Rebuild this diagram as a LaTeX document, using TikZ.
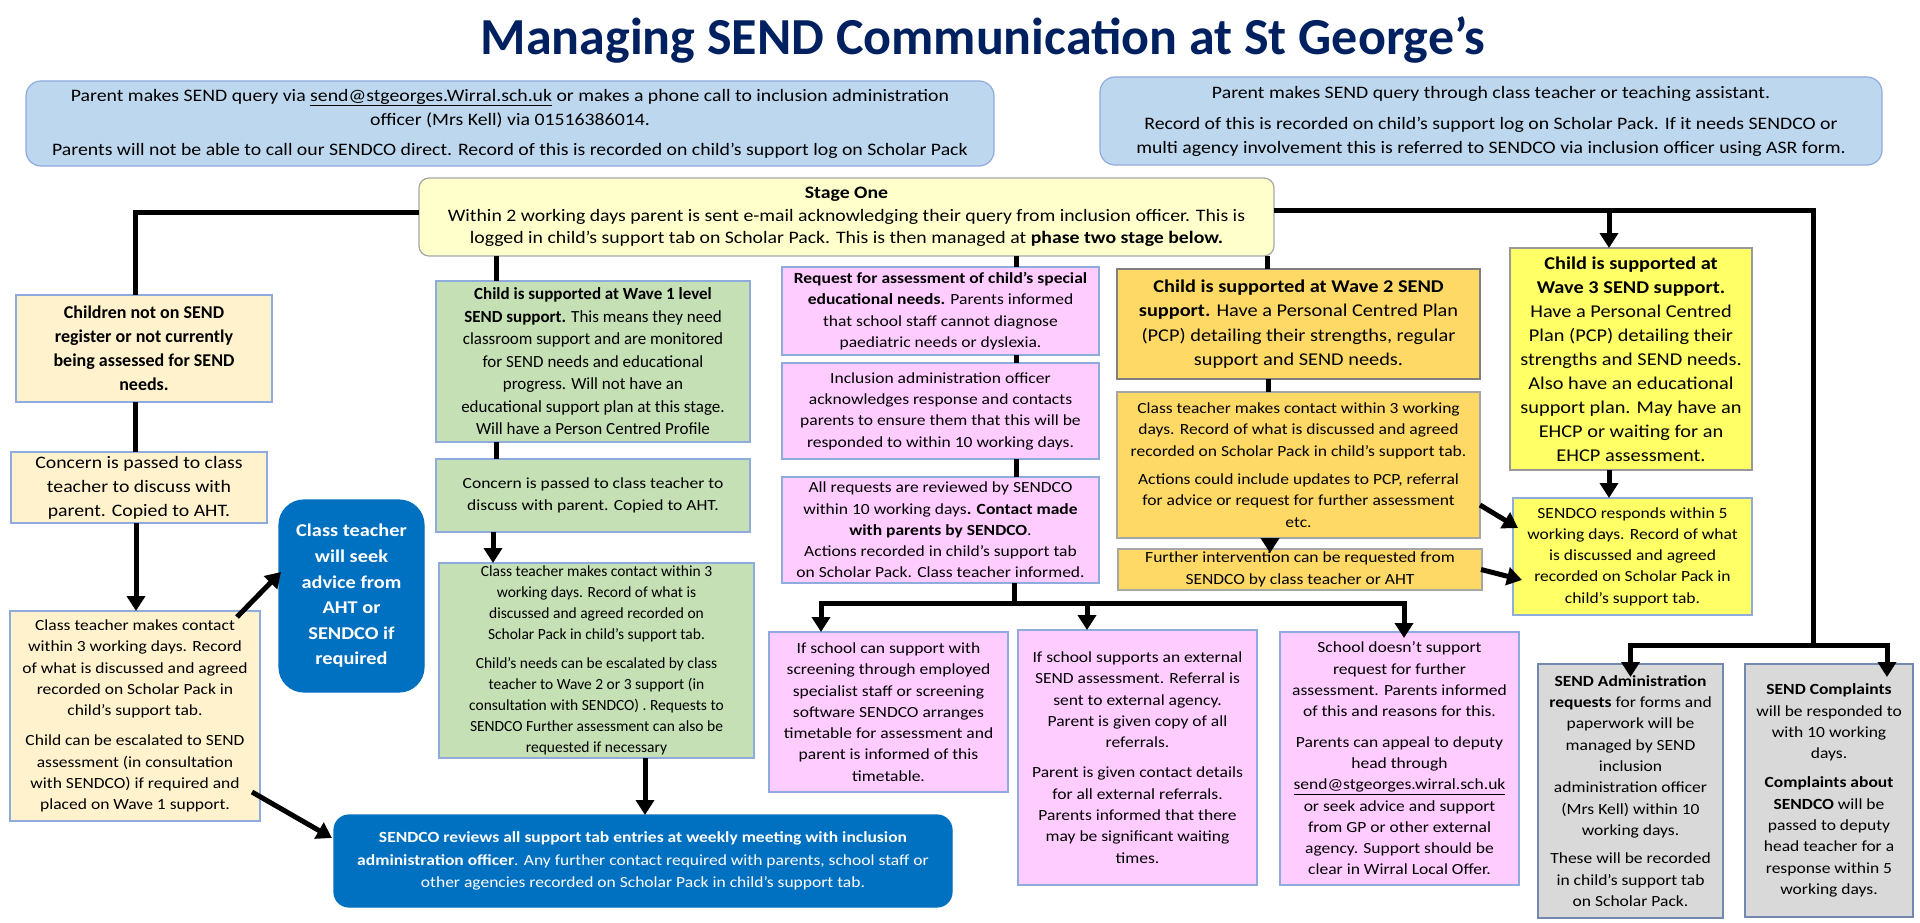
\documentclass[tikz,border=0pt]{standalone}
\usepackage{fontspec}
\setmainfont{Carlito}
\newfontfamily\widefont{Carlito}[FakeStretch=1.13,Ligatures=TeX]
\usetikzlibrary{arrows.meta}

\definecolor{titleblue}{HTML}{002060}
\definecolor{paleblue}{HTML}{BDD7EE}
\definecolor{edgeblue}{HTML}{8FAADC}
\definecolor{paleyellow}{HTML}{FFFFCC}
\definecolor{cream}{HTML}{FFF2CC}
\definecolor{palegreen}{HTML}{C5E0B4}
\definecolor{softpink}{HTML}{FFCCFF}
\definecolor{amber}{HTML}{FFD966}
\definecolor{lemon}{HTML}{FFFF66}
\definecolor{lightgrey}{HTML}{D9D9D9}
\definecolor{deepblue}{HTML}{0070C0}

\begin{document}
\begin{tikzpicture}[x=1pt,y=-1pt,
  box/.style={draw=edgeblue,line width=1.2pt,align=center,inner sep=2pt,outer sep=0pt,
    font=\widefont\fontsize{15.5}{21.3}\selectfont},
  query/.style={box,fill=paleblue,rounded corners=15pt,font=\widefont\fontsize{17.5}{24}\selectfont},
  stageone/.style={box,draw=gray!70,fill=paleyellow,rounded corners=10pt,font=\widefont\fontsize{17.5}{22.5}\selectfont},
  nosend/.style={box,fill=cream},
  wave1/.style={box,fill=palegreen},
  assess/.style={box,fill=softpink},
  wave2/.style={box,draw=gray,fill=amber},
  wave3/.style={box,draw=gray!80,fill=lemon},
  admin/.style={box,draw=edgeblue!80!black,fill=lightgrey},
  sendco/.style={box,draw=deepblue,fill=deepblue,text=white,rounded corners=15pt},
  ln/.style={line width=5pt},
  arr/.style={line width=5pt,-{Triangle[width=18pt,length=15pt]}}]
\useasboundingbox (0,0) rectangle (1920,923);

\node[font=\fontsize{52}{60}\selectfont\bfseries,text=titleblue] (title) at (983,40)
  {Managing SEND Communication at St George's};

% queries
\node[query,minimum width=968pt,minimum height=85pt] (qa) at (510,123.5)
  {Parent makes SEND query via \underline{send@stgeorges.Wirral.sch.uk} or makes a phone call to inclusion administration\\
   officer (Mrs Kell) via 01516386014.\\[6pt]
   Parents will not be able to call our SENDCO direct.  Record of this is recorded on child's support log on Scholar Pack};
\node[query,minimum width=782pt,minimum height=88pt] (qb) at (1491,121)
  {Parent makes SEND query through class teacher or teaching assistant.\\[7pt]
   Record of this is recorded on child's support log on Scholar Pack.  If it needs SENDCO or\\
   multi agency involvement this is referred to SENDCO via inclusion officer using ASR form.};

\node[stageone,minimum width=855pt,minimum height=78pt] (stage) at (846.5,217)
  {\textbf{Stage One}\\
   Within 2 working days parent is sent e-mail acknowledging their query from inclusion officer.   This is\\
   logged in child's support tab on Scholar Pack.  This is then managed at \textbf{phase two stage below.}};

% not on register
\node[nosend,minimum width=256pt,minimum height=107pt,font=\fontsize{18}{24}\selectfont\bfseries] (c1) at (144,348.5)
  {Children not on SEND\\ register or not currently\\ being assessed for SEND\\ needs.};
\node[nosend,minimum width=256pt,minimum height=71pt,font=\widefont\fontsize{17.5}{24}\selectfont] (c2) at (139,487.5)
  {Concern is passed to class\\ teacher to discuss with\\ parent.  Copied to AHT.};
\node[nosend,minimum width=250pt,minimum height=210pt] (c3) at (135,716)
  {Class teacher makes contact\\ within 3 working days.  Record\\ of what is discussed and agreed\\
   recorded on Scholar Pack in\\ child's support tab.\\[9pt]
   Child can be escalated to SEND\\ assessment (in consultation\\ with SENDCO) if required and\\ placed on Wave 1 support.};
\node[sendco,rounded corners=25pt,minimum width=145pt,minimum height=192pt,font=\widefont\fontsize{18}{25.6}\selectfont\bfseries] (bt) at (351.5,596)
  {Class teacher\\ will seek\\ advice from\\ AHT or\\ SENDCO  if\\ required};

% wave 1
\node[wave1,minimum width=314pt,minimum height=161pt,font=\fontsize{17}{22.5}\selectfont] (g1) at (593,361.5)
  {\textbf{Child  is supported at Wave 1 level}\\ \textbf{SEND support.}  This means  they need\\
   classroom support and are monitored\\ for SEND needs and educational\\ progress.   Will not have an\\
   educational support plan at this stage.\\ Will have a Person Centred Profile};
\node[wave1,minimum width=314pt,minimum height=73pt] (g2) at (593,495.5)
  {Concern is passed to class teacher to\\ discuss with parent.  Copied to AHT.};
\node[wave1,minimum width=315pt,minimum height=195pt,font=\fontsize{15.5}{21}\selectfont] (g3) at (596.5,660.5)
  {Class teacher makes contact within 3\\ working days.  Record of what is\\ discussed and agreed recorded on\\
   Scholar Pack in child's support tab.\\[8pt]
   Child's needs can be escalated by class\\ teacher to Wave 2 or 3 support (in\\
   consultation with SENDCO) . Requests to\\ SENDCO  Further assessment can also be\\ requested  if necessary};

% assessment
\node[assess,minimum width=317pt,minimum height=88pt] (p1) at (940.5,311)
  {\textbf{Request for assessment of child's special}\\ \textbf{educational needs.}  Parents informed\\
   that school staff cannot diagnose\\ paediatric needs or dyslexia.};
\node[assess,minimum width=317pt,minimum height=96pt] (p2) at (940.5,411)
  {Inclusion administration officer\\ acknowledges response and contacts\\
   parents to ensure them that this will be\\ responded to within 10 working days.};
\node[assess,minimum width=317pt,minimum height=106pt] (p3) at (940.5,530)
  {All requests are reviewed by SENDCO\\ within 10 working days\textbf{.   Contact made}\\
   \textbf{with parents by SENDCO}.\\ Actions recorded in child's support tab\\ on Scholar Pack.  Class teacher informed.};
\node[assess,minimum width=239pt,minimum height=160pt] (p4) at (888.5,712)
  {If school can support with\\ screening through employed\\ specialist staff or screening\\
   software SENDCO arranges\\ timetable for assessment and\\ parent is informed of this\\ timetable.};
\node[assess,minimum width=239pt,minimum height=255pt] (p5) at (1137.5,757.5)
  {If school supports an external\\ SEND assessment.  Referral is\\ sent to external agency.\\
   Parent is given copy of all\\ referrals.\\[9pt]
   Parent is given contact details\\ for all external referrals.\\ Parents informed that there\\
   may be significant waiting\\ times.};
\node[assess,minimum width=239pt,minimum height=253pt] (p6) at (1399.5,758.5)
  {School doesn't support\\ request for further\\ assessment.  Parents informed\\ of this and reasons for this.\\[9pt]
   Parents can appeal to deputy\\ head through\\ \underline{send@stgeorges.wirral.sch.uk}\\
   or seek advice and support\\ from GP or other external\\ agency.  Support should be\\ clear in Wirral Local Offer.};

% wave 2
\node[wave2,minimum width=363pt,minimum height=110pt,font=\widefont\fontsize{18}{24.3}\selectfont] (o1) at (1298.5,324)
  {\textbf{Child  is supported at Wave 2 SEND}\\ \textbf{support.}  Have a Personal Centred Plan\\
   (PCP) detailing their strengths, regular\\ support and SEND needs.};
\node[wave2,draw=gray!70,minimum width=363pt,minimum height=146pt] (o2) at (1298.5,465)
  {Class teacher makes contact within 3 working\\ days.  Record of what is discussed and agreed\\
   recorded on Scholar Pack in child's support tab.\\[7pt]
   Actions could include updates to PCP, referral\\ for advice or request for further assessment\\ etc.};
\node[wave2,draw=gray!70,minimum width=364pt,minimum height=41pt] (o3) at (1300,569.5)
  {Further intervention can be requested from\\ SENDCO by class teacher or AHT};

% wave 3
\node[wave3,minimum width=242pt,minimum height=222pt,font=\widefont\fontsize{18}{24}\selectfont] (y1) at (1631,359)
  {\textbf{Child  is supported at}\\ \textbf{Wave 3 SEND support.}\\ Have a Personal Centred\\
   Plan (PCP) detailing their\\ strengths and SEND needs.\\ Also have an educational\\
   support plan.  May have an\\ EHCP or waiting for an\\ EHCP assessment.};
\node[wave3,draw=edgeblue,minimum width=239pt,minimum height=117pt] (y2) at (1632.5,556.5)
  {SENDCO responds within 5\\ working days. Record of what\\ is discussed and agreed\\
   recorded on Scholar Pack in\\ child's support tab.};

% admin and complaints
\node[admin,minimum width=185pt,minimum height=254pt] (gr1) at (1630.5,791)
  {\textbf{SEND Administration}\\ \textbf{requests} for forms and\\ paperwork will be\\ managed by SEND\\ inclusion\\
   administration officer\\ (Mrs Kell) within 10\\ working  days.\\[7pt]
   These will be recorded\\ in child's support tab\\ on Scholar Pack.};
\node[admin,minimum width=168pt,minimum height=253pt] (gr2) at (1829,790.5)
  {\textbf{SEND Complaints}\\ will be responded to\\ with 10 working\\ days.\\[8pt]
   \textbf{Complaints  about}\\ \textbf{SENDCO}  will be\\ passed to deputy\\ head teacher for a\\
   response within 5\\ working days.};

\node[sendco,minimum width=618pt,minimum height=92pt,font=\widefont\fontsize{15.5}{22.5}\selectfont] (sb) at (643,861)
  {\textbf{SENDCO reviews all support tab entries at weekly meeting with inclusion}\\
   \textbf{administration officer}.  Any further contact required with parents, school staff or\\
   other agencies recorded on Scholar Pack in child's support tab.};

% connectors
\coordinate (fork) at ([xshift=74pt,yshift=-20pt]p3.south);
\coordinate (rtop) at (1813,210);
\coordinate (rbot) at (1813,645);
\coordinate (w3) at ([xshift=-22pt]y1.north);

\draw[ln] ([yshift=5pt]stage.west) -| ([xshift=-9pt]c1.north);
\draw[ln] ([xshift=-9pt]c1.south) -- ([xshift=-4pt]c2.north);
\draw[arr] ([xshift=-3pt]c2.south) -- ([xshift=1pt]c3.north);
\draw[arr] ([xshift=-23pt,yshift=-6pt]c3.north east) -- ([xshift=2pt,yshift=24pt]bt.west);
\draw[arr] ([xshift=-8pt,yshift=29pt]c3.south east) -- ([xshift=-2pt,yshift=23pt]sb.west);

\draw[ln] ([xshift=-97pt]g1.north) -- ([xshift=-97pt]g1.north |- stage.south);
\draw[ln] ([xshift=-97pt]g1.south) -- ([xshift=-97pt]g2.north);
\draw[arr] ([xshift=-100pt]g2.south) -- ([xshift=-103.5pt]g3.north);
\draw[arr] ([xshift=48.5pt]g3.south) -- ([xshift=2pt]sb.north);

\draw[ln] ([xshift=75.5pt]p1.north) -- ([xshift=75.5pt]p1.north |- stage.south);
\draw[ln] ([xshift=75.5pt]p1.south) -- ([xshift=75.5pt]p2.north);
\draw[ln] ([xshift=75.5pt]p2.south) -- ([xshift=75.5pt]p3.north);
\draw[ln] ([xshift=74pt]p3.south) -- (fork);
\draw[arr] (fork) -| ([xshift=-67.5pt]p4.north);
\draw[arr] (fork) -| ([xshift=-50.5pt]p5.north);
\draw[arr] (fork) -| ([xshift=4.5pt,yshift=-6pt]p6.north);

\draw[ln] ([xshift=-31.5pt]o1.north) -- ([xshift=-31.5pt]o1.north |- stage.south);
\draw[ln] ([xshift=-30pt]o1.south) -- ([xshift=-30pt]o2.north);
\draw[arr] ([xshift=-28.5pt]o2.south) -- ([xshift=-30pt,yshift=-4pt]o3.north);
\draw[arr] ([yshift=-40pt]o2.east) -- ([xshift=5pt,yshift=28.5pt]y2.west);
\draw[arr] ([xshift=-1pt]o3.east) -- ([xshift=9pt,yshift=-23.5pt]y2.west);

\draw[ln] (stage.east |- rtop) -- (rtop) -- (rbot);
\draw[arr] (w3 |- rtop) -- (w3);
\draw[arr] (w3 |- y1.south) -- (w3 |- y2.north);
\draw[arr] (rbot) -| ([yshift=-13pt]gr1.north);
\draw[arr] (rbot) -| ([xshift=58pt,yshift=-13pt]gr2.north);

\end{tikzpicture}
\end{document}
